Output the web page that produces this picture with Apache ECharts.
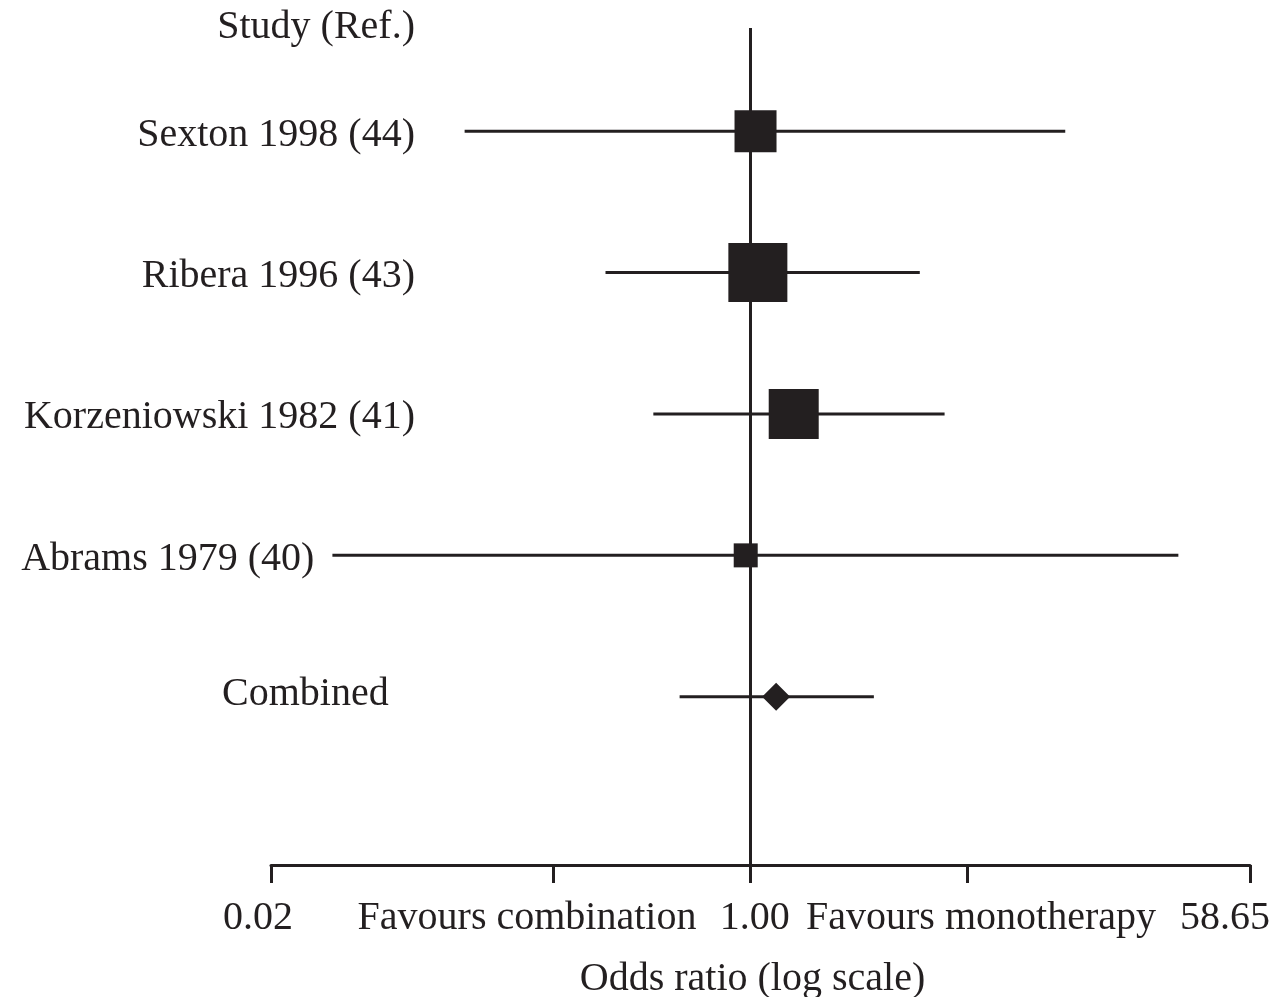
<!DOCTYPE html>
<html>
<head>
<meta charset="utf-8">
<script src="https://cdn.jsdelivr.net/npm/echarts@6/dist/echarts.min.js"></script>
<style>
html, body { margin: 0; padding: 0; background: #ffffff; }
#chart { width: 1275px; height: 997px; }
</style>
</head>
<body>
<div id="chart"></div>
<script>
// ---------------- data ----------------
const studies = ['Sexton 1998 (44)', 'Ribera 1996 (43)', 'Korzeniowski 1982 (41)', 'Abrams 1979 (40)', 'Combined'];
const oddsRatio = [1.04, 1.06, 1.42, 0.96, 1.23];
const ciLower = [0.097, 0.306, 0.452, 0.033, 0.56];
const ciUpper = [13.0, 3.97, 4.86, 32.7, 2.73];
const headerLabel = 'Study (Ref.)';
const tickValues = [0.02, 0.2, 1, 5.865, 58.65];
const tickLabelValues = [0.02, 1, 58.65];
const tickLabels = ['0.02', '1.00', '58.65'];
const favourLabels = ['Favours combination', 'Favours monotherapy'];
const axisTitle = 'Odds ratio (log scale)';

// ---------------- style ----------------
const INK = '#231f20';
const FONT = '"Liberation Serif", "Times New Roman", serif';
const FS = 40;
const markerSizes = [42, 59, 50, 24, 28];
const lastIdx = studies.length - 1;

const chart = echarts.init(document.getElementById('chart'), null, { renderer: 'canvas' });

const ciData = studies.map((s, i) => [Math.log10(ciLower[i]), Math.log10(ciUpper[i]), i + 1, i]);
const pointData = studies.map((s, i) => ({
  value: [Math.log10(oddsRatio[i]), i + 1],
  symbol: i === lastIdx ? 'diamond' : 'rect',
  symbolSize: markerSizes[i]
}));

const richBase = { fontSize: FS, fontFamily: FONT, color: INK, lineHeight: FS };

const option = {
  backgroundColor: '#ffffff',
  animation: false,
  grid: { left: 271, right: 25, top: 28, bottom: 132, containLabel: false, outerBoundsMode: 'none' },
  xAxis: {
    type: 'value',
    min: Math.log10(0.02),
    max: Math.log10(58.65),
    axisLine: { show: true, lineStyle: { color: INK, width: 3 } },
    axisTick: {
      show: true,
      customValues: tickValues.map(v => Math.log10(v)),
      length: 18,
      lineStyle: { color: INK, width: 3 }
    },
    axisLabel: {
      show: true,
      customValues: tickLabelValues.map(v => Math.log10(v)),
      margin: 33,
      color: INK,
      fontSize: FS,
      fontFamily: FONT,
      lineHeight: FS,
      hideOverlap: false,
      formatter: function (v) {
        let best = 0, bd = Infinity;
        tickLabelValues.forEach((t, i) => {
          const d = Math.abs(Math.log10(t) - v);
          if (d < bd) { bd = d; best = i; }
        });
        const key = best === 0 ? 'a' : (best === tickLabels.length - 1 ? 'c' : 'b');
        return '{' + key + '|' + tickLabels[best] + '}';
      },
      rich: {
        a: Object.assign({ padding: [0, 26, 0, 0] }, richBase),
        b: Object.assign({ padding: [0, 0, 0, 8] }, richBase),
        c: Object.assign({ padding: [0, 50, 0, 0] }, richBase)
      }
    },
    splitLine: { show: false },
    name: axisTitle,
    nameLocation: 'middle',
    nameGap: 94,
    nameTextStyle: { color: INK, fontSize: FS, fontFamily: FONT, lineHeight: FS, padding: [0, 16, 0, 0] }
  },
  yAxis: {
    type: 'value',
    inverse: true,
    min: 0.27,
    max: 6.19,
    show: false
  },
  graphic: [
    {
      type: 'text', x: 415, y: 27,
      style: { text: headerLabel, fill: INK, fontSize: FS, fontFamily: FONT, align: 'right', verticalAlign: 'middle' }
    },
    {
      type: 'text', x: 527, y: 918,
      style: { text: favourLabels[0], fill: INK, fontSize: FS, fontFamily: FONT, align: 'center', verticalAlign: 'middle' }
    },
    {
      type: 'text', x: 981, y: 918,
      style: { text: favourLabels[1], fill: INK, fontSize: FS, fontFamily: FONT, align: 'center', verticalAlign: 'middle' }
    }
  ],
  series: [
    {
      type: 'custom',
      z: 2,
      clip: false,
      encode: { x: [0, 1], y: 2 },
      data: ciData,
      renderItem: function (params, api) {
        const lo = api.coord([api.value(0), api.value(2)]);
        const hi = api.coord([api.value(1), api.value(2)]);
        const idx = api.value(3);
        const pooled = idx === lastIdx;
        const textX = pooled ? 222 : Math.min(415, lo[0] - 18);
        return {
          type: 'group',
          children: [
            {
              type: 'line',
              shape: { x1: lo[0], y1: lo[1], x2: hi[0], y2: hi[1] },
              style: { stroke: INK, lineWidth: 3 }
            },
            {
              type: 'text',
              x: textX,
              y: lo[1] + (pooled ? -2 : 4),
              style: {
                text: studies[idx], fill: INK, fontSize: FS, fontFamily: FONT,
                align: pooled ? 'left' : 'right', verticalAlign: 'middle'
              }
            }
          ]
        };
      }
    },
    {
      type: 'scatter',
      z: 4,
      data: pointData,
      itemStyle: { color: INK, opacity: 1 },
      markLine: {
        silent: true,
        symbol: ['none', 'none'],
        label: { show: false },
        lineStyle: { color: INK, width: 3, type: 'solid' },
        data: [{ xAxis: 0 }]
      }
    }
  ]
};

chart.setOption(option);
</script>
</body>
</html>
